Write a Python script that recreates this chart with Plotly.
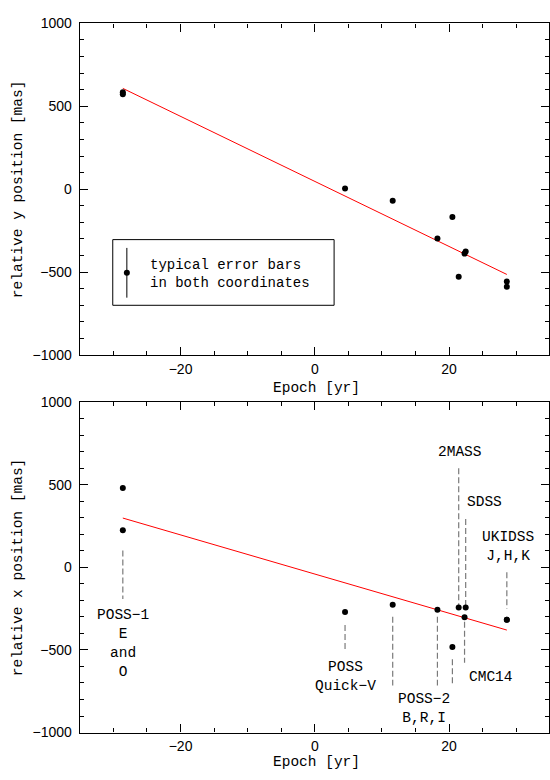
import plotly.graph_objects as go

# ---------------- data ----------------
epochs = [-28.6, -28.6, 4.5, 11.6, 18.26, 20.49, 21.43, 22.3, 22.47, 28.6, 28.6]
rel_x = [480, 224, -271, -227, -257, -482, -243, -302, -243, -318, -318]
rel_y = [585, 572, 4, -69, -298, -167, -528, -388, -376, -557, -588]

fit_epoch = [-28.6, 28.6]
fit_y = [608, -514]
fit_x = [298, -380]

err_epoch = [-28.0]
err_center = [-504]
err_half = [150]
legend_text = "typical error bars<br>in both coordinates"
legend_box_x = [-30.1, 2.87]
legend_box_y = [-700, -304]
legend_text_x = -24.9
legend_text_y = -512

guide_epoch = [-28.6, 4.5, 11.6, 18.26, 20.49, 21.43, 22.47, 22.3, 28.6]
guide_y0 = [101, -350, -300, -300, -557, 599, 292, -330, -30]
guide_y1 = [-192, -508, -716, -716, -716, -231, -231, -577, -251]

label_text = ["POSS\u22121<br>E<br>and<br>O", "POSS<br>Quick\u2212V", "POSS\u22122<br>B,R,I",
              "2MASS", "SDSS", "UKIDSS<br>J,H,K", "CMC14"]
label_x = [-28.5, 4.55, 16.2, 21.56, 25.2, 28.75, 26.2]
label_y = [-460, -660, -857, 698, 397, 125, -662]

x_ticks = [-20, 0, 20]
y_ticks = [-1000, -500, 0, 500, 1000]

# ---------------- figure ----------------
W, H = 550, 780
MONO = "Liberation Mono"
SANS = "Liberation Sans"

fig = go.Figure()

# top panel (relative y)
fig.add_trace(go.Scatter(x=fit_epoch, y=fit_y, mode="lines",
                         line=dict(color="red", width=1), xaxis="x", yaxis="y"))
fig.add_trace(go.Scatter(x=epochs, y=rel_y, mode="markers",
                         marker=dict(color="black", size=6, symbol="circle"),
                         xaxis="x", yaxis="y"))
fig.add_trace(go.Scatter(x=err_epoch, y=err_center, mode="markers",
                         marker=dict(color="black", size=6),
                         error_y=dict(type="data", array=err_half, width=0,
                                      thickness=1, color="black"),
                         xaxis="x", yaxis="y"))

# bottom panel (relative x)
for e, a, b in zip(guide_epoch, guide_y0, guide_y1):
    fig.add_trace(go.Scatter(x=[e, e], y=[a, b], mode="lines",
                             line=dict(color="#7a7a7a", width=1.2, dash="6px,3px"),
                             xaxis="x2", yaxis="y2"))
fig.add_trace(go.Scatter(x=fit_epoch, y=fit_x, mode="lines",
                         line=dict(color="red", width=1), xaxis="x2", yaxis="y2"))
fig.add_trace(go.Scatter(x=epochs, y=rel_x, mode="markers",
                         marker=dict(color="black", size=6, symbol="circle"),
                         xaxis="x2", yaxis="y2"))

axis_common = dict(
    showline=True, linecolor="black", linewidth=1.3, mirror="allticks",
    ticks="inside", ticklen=8, tickwidth=1.3, tickcolor="black",
    showgrid=False, zeroline=False,
    tickfont=dict(family=SANS, size=14, color="black"),
)

x_dom = [80 / W, 1.0]
top_dom = [(H - 354.3) / H, (H - 15.7) / H]
bot_dom = [(H - 739.7) / H, (H - 402.3) / H]
x_range = [-35, 34.88]

def xax(anchor):
    return dict(axis_common, domain=x_dom, range=x_range, anchor=anchor,
                tickvals=x_ticks, ticklabelstandoff=1,
                minor=dict(ticks="inside", ticklen=4, tickwidth=1.3,
                           tickcolor="black", dtick=5, tick0=0, showgrid=False))

def yax(anchor, dom):
    return dict(axis_common, domain=dom, range=[-1000, 1000], anchor=anchor,
                tickvals=y_ticks, ticklabelstandoff=4,
                minor=dict(ticks="inside", ticklen=4, tickwidth=1.3,
                           tickcolor="black", dtick=100, tick0=0, showgrid=False))

annotations = []
# legend text
annotations.append(dict(x=legend_text_x, y=legend_text_y, xref="x", yref="y",
                        text=legend_text, showarrow=False, xanchor="left",
                        yanchor="middle", align="left",
                        font=dict(family=MONO, size=14, color="black")))
# survey labels
for t, xx, yy in zip(label_text, label_x, label_y):
    annotations.append(dict(x=xx, y=yy, xref="x2", yref="y2", text=t,
                            showarrow=False, xanchor="center", yanchor="middle",
                            align="center",
                            font=dict(family=MONO, size=14.5, color="black")))
# axis titles
title_font = dict(family=MONO, size=14.5, color="black")
annotations += [
    dict(x=316.7 / W, y=(H - 388) / H, xref="paper", yref="paper", text="Epoch [yr]",
         showarrow=False, xanchor="center", yanchor="middle", font=title_font),
    dict(x=316.7 / W, y=(H - 770) / H, xref="paper", yref="paper", text="Epoch [yr]",
         showarrow=False, xanchor="center", yanchor="middle", font=title_font),
    dict(x=18 / W, y=(H - 185) / H, xref="paper", yref="paper",
         text="relative y position [mas]", textangle=-90,
         showarrow=False, xanchor="center", yanchor="middle", font=title_font),
    dict(x=18 / W, y=(H - 571) / H, xref="paper", yref="paper",
         text="relative x position [mas]", textangle=-90,
         showarrow=False, xanchor="center", yanchor="middle", font=title_font),
]

fig.update_layout(
    width=W, height=H, margin=dict(l=0, r=0, t=0, b=0),
    paper_bgcolor="white", plot_bgcolor="white", showlegend=False,
    xaxis=xax("y"), yaxis=yax("x", top_dom),
    xaxis2=xax("y2"), yaxis2=yax("x2", bot_dom),
    shapes=[dict(type="rect", xref="x", yref="y",
                 x0=legend_box_x[0], x1=legend_box_x[1],
                 y0=legend_box_y[0], y1=legend_box_y[1],
                 line=dict(color="black", width=1), layer="above")],
    annotations=annotations,
)

fig.write_html("out.html")
